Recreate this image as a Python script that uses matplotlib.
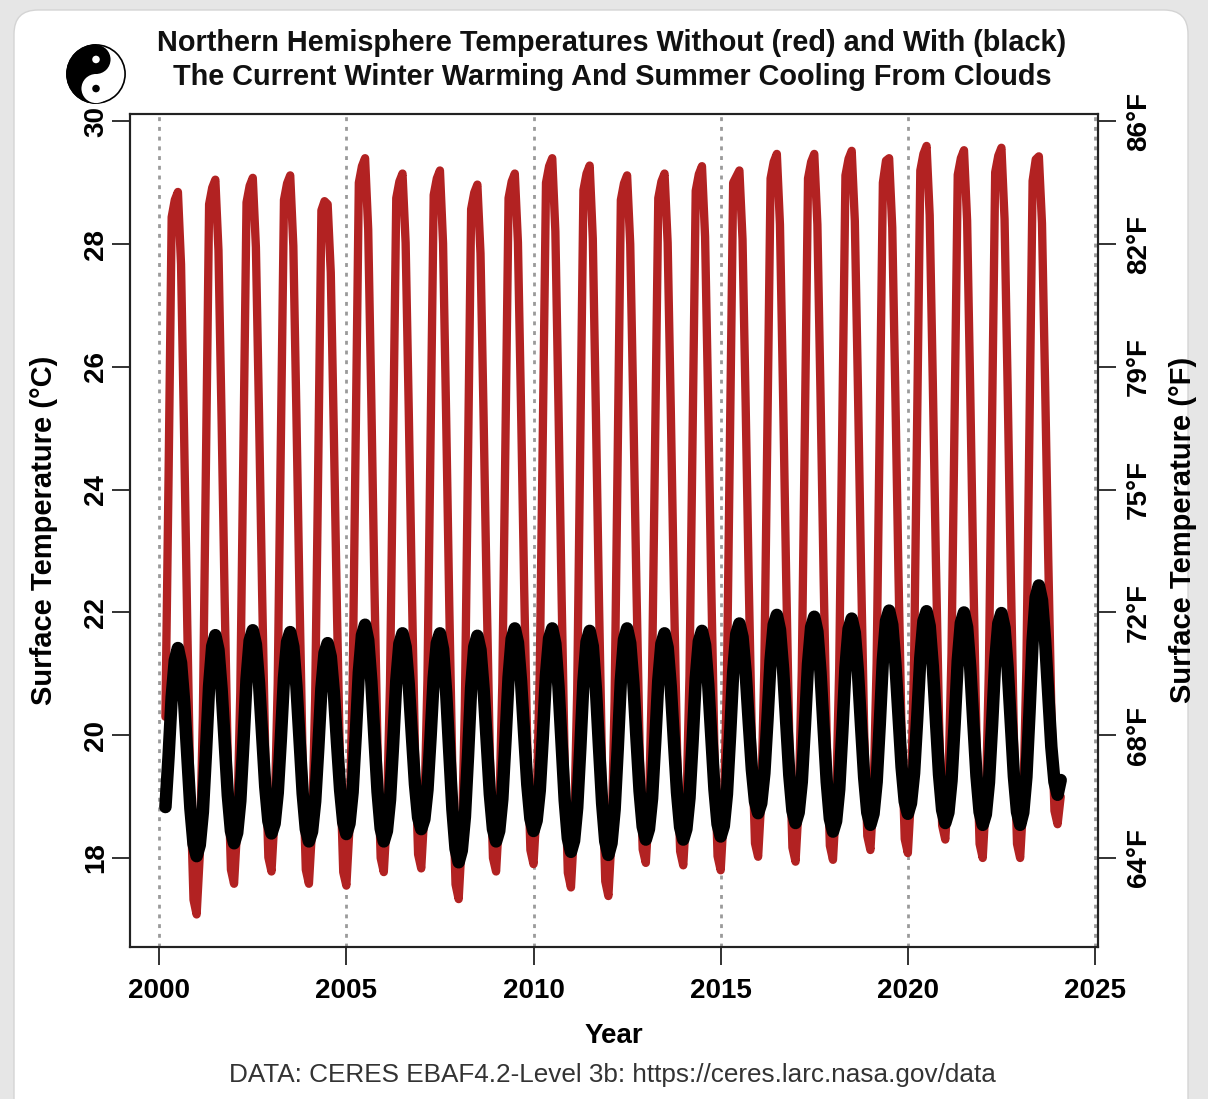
import numpy as np
import matplotlib
matplotlib.use("Agg")
import matplotlib.pyplot as plt
from matplotlib.patches import FancyBboxPatch, Circle, Wedge

plt.rcParams['font.family'] = ['Liberation Sans', 'DejaVu Sans']

# monthly series, first value is March 2000, last is February 2024
start_year = 2000
start_month = 3

# without clouds (red), deg C
red_c = [
    20.30, 24.20, 28.44, 28.72, 28.85, 27.67, 24.85, 21.79, 19.08, 17.32,  # 2000
    17.08, 18.04, 20.31, 24.50, 28.65, 28.92, 29.05, 27.90, 25.15, 22.17, 19.53, 17.81,  # 2001
    17.58, 18.50, 20.69, 24.71, 28.68, 28.95, 29.08, 27.95, 25.24, 22.30, 19.70, 18.01,  # 2002
    17.78, 18.69, 20.84, 24.81, 28.72, 28.99, 29.12, 27.97, 25.20, 22.20, 19.54, 17.81,  # 2003
    17.58, 18.47, 20.58, 24.46, 28.55, 28.70, 28.65, 27.54, 24.88, 21.99, 19.44, 17.77,  # 2004
    17.55, 18.50, 20.75, 24.90, 29.00, 29.27, 29.40, 28.24, 25.45, 22.42, 19.75, 18.00,  # 2005
    17.77, 18.68, 20.84, 24.83, 28.75, 29.02, 29.15, 28.02, 25.30, 22.36, 19.75, 18.06,  # 2006
    17.83, 18.74, 20.90, 24.88, 28.80, 29.07, 29.20, 28.01, 25.16, 22.08, 19.35, 17.57,  # 2007
    17.33, 18.26, 20.47, 24.55, 28.57, 28.84, 28.97, 27.85, 25.17, 22.26, 19.68, 18.00,  # 2008
    17.78, 18.69, 20.85, 24.83, 28.75, 29.02, 29.15, 28.03, 25.33, 22.40, 19.81, 18.13,  # 2009
    17.90, 18.82, 21.01, 25.03, 29.00, 29.27, 29.40, 28.21, 25.36, 22.27, 19.54, 17.76,  # 2010
    17.52, 18.46, 20.70, 24.81, 28.88, 29.15, 29.28, 28.09, 25.23, 22.14, 19.40, 17.62,  # 2011
    17.38, 18.32, 20.55, 24.66, 28.72, 28.99, 29.12, 28.00, 25.31, 22.40, 19.82, 18.14,  # 2012
    17.92, 18.82, 20.95, 24.88, 28.75, 29.02, 29.15, 28.02, 25.32, 22.39, 19.80, 18.11,  # 2013
    17.88, 18.79, 20.96, 24.94, 28.87, 29.14, 29.27, 28.12, 25.37, 22.39, 19.75, 18.03,  # 2014
    17.80, 18.71, 20.88, 24.87, 29.00, 29.10, 29.20, 28.08, 25.40, 22.49, 19.92, 18.24,  # 2015
    18.02, 18.94, 21.11, 25.12, 29.07, 29.34, 29.47, 28.32, 25.55, 22.55, 19.90, 18.17,  # 2016
    17.94, 18.86, 21.05, 25.09, 29.07, 29.34, 29.47, 28.32, 25.56, 22.57, 19.93, 18.20,  # 2017
    17.97, 18.89, 21.09, 25.13, 29.12, 29.39, 29.52, 28.38, 25.65, 22.69, 20.07, 18.36,  # 2018
    18.13, 19.03, 21.17, 25.12, 29.00, 29.36, 29.40, 28.27, 25.55, 22.61, 20.00, 18.31,  # 2019
    18.08, 19.00, 21.19, 25.22, 29.20, 29.47, 29.60, 28.47, 25.76, 22.82, 20.22, 18.53,  # 2020
    18.30, 19.20, 21.33, 25.26, 29.13, 29.40, 29.53, 28.38, 25.61, 22.61, 19.96, 18.23,  # 2021
    18.00, 18.93, 21.12, 25.17, 29.17, 29.44, 29.57, 28.41, 25.64, 22.63, 19.97, 18.23,  # 2022
    18.00, 18.91, 21.09, 25.09, 29.03, 29.38, 29.43, 28.34, 25.73, 22.90, 20.40, 18.77,  # 2023
    18.55, 19.00,  # 2024
]

# with clouds (black), deg C
black_c = [
    18.83, 19.65, 20.62, 21.22, 21.42, 21.18, 20.54, 19.66, 18.81, 18.23,  # 2000
    18.03, 18.21, 18.75, 19.72, 20.80, 21.45, 21.63, 21.39, 20.75, 19.87, 19.02, 18.44,  # 2001
    18.24, 18.41, 18.93, 19.87, 20.91, 21.54, 21.71, 21.48, 20.85, 19.99, 19.16, 18.60,  # 2002
    18.40, 18.56, 19.06, 19.94, 20.93, 21.52, 21.68, 21.44, 20.79, 19.91, 19.05, 18.47,  # 2003
    18.27, 18.43, 18.92, 19.79, 20.76, 21.34, 21.50, 21.28, 20.69, 19.88, 19.11, 18.58,  # 2004
    18.39, 18.56, 19.07, 19.99, 21.02, 21.63, 21.80, 21.55, 20.88, 19.96, 19.08, 18.48,  # 2005
    18.27, 18.44, 18.95, 19.86, 20.88, 21.49, 21.66, 21.44, 20.83, 20.00, 19.20, 18.66,  # 2006
    18.47, 18.63, 19.11, 19.97, 20.93, 21.50, 21.66, 21.40, 20.69, 19.72, 18.79, 18.15,  # 2007
    17.93, 18.12, 18.67, 19.66, 20.77, 21.44, 21.62, 21.39, 20.75, 19.88, 19.04, 18.47,  # 2008
    18.27, 18.44, 18.96, 19.90, 20.94, 21.57, 21.74, 21.51, 20.88, 20.02, 19.20, 18.64,  # 2009
    18.44, 18.61, 19.10, 19.99, 20.98, 21.58, 21.74, 21.49, 20.79, 19.85, 18.94, 18.32,  # 2010
    18.10, 18.28, 18.82, 19.79, 20.87, 21.52, 21.70, 21.45, 20.75, 19.80, 18.89, 18.27,  # 2011
    18.05, 18.24, 18.79, 19.78, 20.89, 21.56, 21.74, 21.50, 20.85, 19.95, 19.09, 18.51,  # 2012
    18.30, 18.47, 18.97, 19.88, 20.89, 21.49, 21.66, 21.43, 20.79, 19.91, 19.07, 18.50,  # 2013
    18.30, 18.47, 18.98, 19.90, 20.92, 21.53, 21.70, 21.47, 20.83, 19.96, 19.12, 18.55,  # 2014
    18.35, 18.52, 19.04, 19.98, 21.02, 21.65, 21.82, 21.60, 21.02, 20.21, 19.44, 18.92,  # 2015
    18.73, 18.89, 19.38, 20.25, 21.22, 21.80, 21.96, 21.72, 21.08, 20.20, 19.35, 18.77,  # 2016
    18.57, 18.74, 19.24, 20.15, 21.16, 21.76, 21.93, 21.69, 21.02, 20.11, 19.24, 18.64,  # 2017
    18.43, 18.60, 19.12, 20.06, 21.10, 21.73, 21.90, 21.67, 21.03, 20.15, 19.31, 18.74,  # 2018
    18.54, 18.72, 19.24, 20.18, 21.23, 21.86, 22.03, 21.80, 21.17, 20.31, 19.48, 18.92,  # 2019
    18.72, 18.89, 19.38, 20.27, 21.26, 21.86, 22.02, 21.78, 21.12, 20.23, 19.36, 18.78,  # 2020
    18.57, 18.74, 19.26, 20.18, 21.21, 21.83, 22.00, 21.76, 21.10, 20.20, 19.34, 18.75,  # 2021
    18.54, 18.71, 19.23, 20.16, 21.20, 21.82, 21.99, 21.75, 21.09, 20.20, 19.33, 18.75,  # 2022
    18.54, 18.74, 19.32, 20.37, 21.54, 22.25, 22.44, 22.20, 21.55, 20.67, 19.81, 19.24,  # 2023
    19.03, 19.27,  # 2024
]

year_ticks = [2000, 2005, 2010, 2015, 2020, 2025]
c_ticks = [18, 20, 22, 24, 26, 28, 30]
f_labels = ["64°F", "68°F", "72°F", "75°F", "79°F", "82°F", "86°F"]

title1 = "Northern Hemisphere Temperatures Without (red) and With (black)"
title2 = "The Current Winter Warming And Summer Cooling From Clouds"
source = "DATA: CERES EBAF4.2-Level 3b: https://ceres.larc.nasa.gov/data"

t = start_year + (start_month - 1 + np.arange(len(red_c))) / 12.0

W, H = 1208, 1099
fig = plt.figure(figsize=(W / 100, H / 100), dpi=100, facecolor='#e6e6e6')

# white card of the screenshot, behind everything
card = FancyBboxPatch((14, -60), 1174, 1149, boxstyle="round,pad=0,rounding_size=24",
                      transform=None, fc='white', ec='#d4d4d4', lw=1, zorder=-10)
fig.patches.append(card)

ax = fig.add_axes([130 / W, 1 - 947 / H, (1098 - 130) / W, (947 - 114) / H])
ax.set_facecolor('white')

for yr in year_ticks:
    ax.axvline(yr, color='#9a9a9a', lw=2, ls=(0, (1.4, 2.1)), zorder=1)

ax.plot(t, red_c, color='#b22222', lw=6, solid_capstyle='round',
        solid_joinstyle='round', zorder=2)
ax.plot(t, black_c, color='black', lw=9, solid_capstyle='round',
        solid_joinstyle='round', zorder=3)

ax.set_xlim(1999.22, 2025.08)
ax.set_ylim(16.55, 30.12)

for s in ax.spines.values():
    s.set_linewidth(1.5)
    s.set_color('#222222')

ax.set_xticks(year_ticks)
ax.set_xticklabels([str(y) for y in year_ticks], fontsize=20, fontweight='bold')
ax.set_yticks(c_ticks)
ax.set_yticklabels([str(c) for c in c_ticks], fontsize=20, fontweight='bold',
                   rotation=90, va='center')
ax.tick_params(axis='x', direction='out', length=13, width=1.3, pad=9, color='#222222')
ax.tick_params(axis='y', direction='out', length=13, width=1.3, pad=2, color='#222222')

ax2 = ax.twinx()
ax2.set_ylim(ax.get_ylim())
ax2.set_yticks(c_ticks)
ax2.set_yticklabels(f_labels, fontsize=20, fontweight='bold', rotation=90, va='center')
ax2.tick_params(axis='y', direction='out', length=13, width=1.3, pad=7, color='#222222')
for s in ax2.spines.values():
    s.set_linewidth(1.5)
    s.set_color('#222222')

fig.text(44 / W, 1 - 530 / H, "Surface Temperature (°C)", rotation=90, ha='center',
         va='center', fontsize=21, fontweight='bold')
fig.text(1183 / W, 1 - 530 / H, "Surface Temperature (°F)", rotation=90, ha='center',
         va='center', fontsize=21, fontweight='bold')
fig.text(614 / W, 1 - 1036 / H, "Year", ha='center', va='center', fontsize=20,
         fontweight='bold')
fig.text(612 / W, 1 - 1075 / H, source, ha='center', va='center', fontsize=18.8,
         color='#333333')
fig.text(612 / W, 1 - 43 / H, title1, ha='center', va='center', fontsize=20.8,
         fontweight='bold', color='#111111')
fig.text(612 / W, 1 - 77 / H, title2, ha='center', va='center', fontsize=20.8,
         fontweight='bold', color='#111111')

# little yin-yang logo, top left
lax = fig.add_axes([64 / W, 1 - 106 / H, 64 / W, 64 / H])
lax.set_xlim(-1.1, 1.1)
lax.set_ylim(-1.1, 1.1)
lax.set_aspect('equal')
lax.axis('off')
lax.add_patch(Circle((0, 0), 1, fc='white', ec='black', lw=1.2))
lax.add_patch(Wedge((0, 0), 1, 90, 270, fc='black', ec='black'))
lax.add_patch(Circle((0, -0.5), 0.5, fc='white', ec='none'))
lax.add_patch(Circle((0, 0.5), 0.5, fc='black', ec='none'))
lax.add_patch(Circle((0, 0.5), 0.13, fc='white', ec='none'))
lax.add_patch(Circle((0, -0.5), 0.13, fc='black', ec='none'))

fig.savefig("out.png", dpi=100, facecolor=fig.get_facecolor())
